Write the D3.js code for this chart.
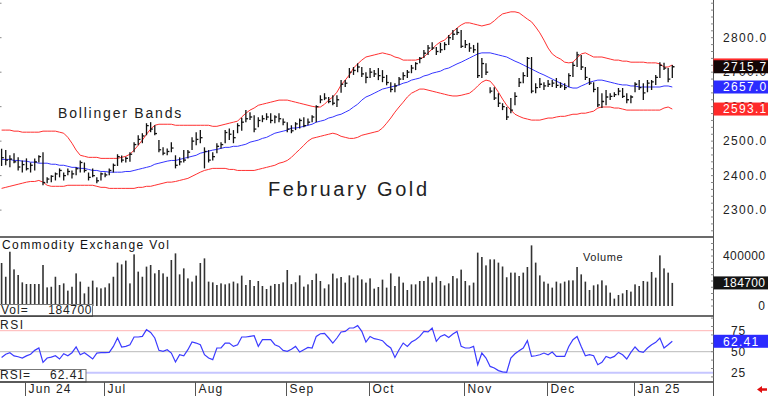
<!DOCTYPE html>
<meta charset="utf-8">
<style>
body { margin: 0; background: #fff; }
svg { display: block; }
text { font-family: "Liberation Sans", Arial, sans-serif; fill: #222; }
</style>
<svg width="768" height="396"></svg>
<script src="https://d3js.org/d3.v7.min.js"></script>
<script>

// month labels of the bottom strip and the bar index where each month starts
var monthLabels = ["Jun 24", "Jul", "Aug", "Sep", "Oct", "Nov", "Dec", "Jan 25"];
var monthStart = [6, 25, 47, 69, 89, 112, 132, 153];

// February gold daily bars
var highs = [
  2478,2474,2459,2465,2453,2444,2450,2438,2450,2459,
  2468,2395,2401,2409,2421,2409,2421,2415,2424,2444,
  2438,2409,2421,2395,2409,2409,2421,2435,2462,2458,
  2455,2468,2497,2517,2523,2552,2555,2546,2503,2482,
  2479,2497,2459,2453,2474,2474,2511,2526,2532,2482,
  2474,2468,2494,2497,2532,2537,2532,2552,2568,2590,
  2584,2575,2569,2575,2581,2581,2575,2581,2566,2555,
  2546,2555,2566,2569,2566,2575,2604,2633,2639,2628,
  2633,2633,2677,2677,2712,2715,2726,2715,2700,2712,
  2706,2712,2706,2692,2671,2668,2686,2700,2706,2721,
  2729,2744,2764,2779,2787,2773,2785,2787,2808,2822,
  2828,2822,2793,2785,2779,2785,2741,2726,2656,2656,
  2639,2610,2599,2625,2642,2683,2700,2744,2744,2668,
  2683,2671,2677,2677,2683,2671,2668,2697,2729,2759,
  2750,2715,2683,2671,2657,2639,2648,2639,2642,2654,
  2654,2639,2633,2671,2677,2668,2677,2677,2692,2729,
  2727,2712,2721];
var lows = [
  2428,2430,2424,2436,2415,2409,2415,2409,2415,2438,
  2372,2378,2381,2386,2395,2386,2401,2392,2401,2409,
  2409,2386,2395,2378,2386,2395,2401,2409,2428,2438,
  2438,2440,2468,2488,2494,2517,2526,2517,2468,2459,
  2459,2468,2421,2430,2438,2450,2474,2488,2494,2421,
  2438,2444,2465,2479,2494,2503,2494,2523,2530,2555,
  2561,2526,2540,2555,2561,2552,2552,2555,2546,2526,
  2523,2532,2537,2540,2546,2555,2555,2610,2619,2610,
  2604,2599,2640,2657,2683,2692,2700,2686,2668,2683,
  2686,2677,2671,2662,2642,2642,2662,2677,2683,2697,
  2706,2726,2741,2750,2764,2750,2756,2764,2779,2793,
  2808,2770,2770,2759,2756,2683,2683,2692,2639,2619,
  2599,2590,2561,2581,2604,2657,2668,2686,2639,2639,
  2654,2648,2657,2657,2654,2654,2648,2657,2686,2715,
  2706,2677,2663,2642,2599,2596,2604,2619,2628,2633,
  2625,2610,2610,2642,2648,2619,2642,2648,2663,2683,
  2706,2671,2683];
var closes = [
  2452,2445,2448,2440,2425,2432,2420,2430,2440,2455,
  2380,2390,2398,2405,2415,2400,2412,2405,2420,2438,
  2415,2395,2400,2385,2405,2402,2415,2430,2455,2445,
  2450,2462,2490,2505,2515,2545,2535,2522,2475,2465,
  2470,2480,2430,2440,2445,2468,2500,2505,2510,2470,
  2445,2455,2485,2490,2525,2520,2510,2545,2555,2565,
  2570,2535,2560,2565,2570,2560,2570,2565,2555,2535,
  2530,2550,2560,2545,2555,2570,2600,2620,2625,2615,
  2610,2620,2665,2668,2700,2705,2715,2695,2685,2700,
  2695,2690,2685,2670,2650,2660,2680,2690,2700,2712,
  2725,2740,2755,2770,2770,2760,2765,2780,2800,2810,
  2815,2775,2780,2770,2765,2690,2725,2700,2645,2625,
  2610,2600,2570,2590,2630,2670,2690,2740,2645,2655,
  2665,2660,2665,2668,2662,2660,2655,2690,2720,2750,
  2715,2685,2668,2650,2605,2615,2628,2630,2635,2645,
  2630,2620,2628,2665,2655,2640,2668,2672,2685,2720,
  2712,2680,2715.7];

// Bollinger bands as drawn
var bbUpper = [
  2532,2532,2532,2529,2529,2526,2526,2526,2526,2526,
  2529,2529,2529,2529,2526,2523,2511,2494,2474,2459,
  2456,2453,2453,2453,2450,2450,2450,2450,2450,2453,
  2456,2462,2474,2488,2503,2520,2535,2546,2549,2549,
  2549,2549,2546,2546,2546,2546,2546,2546,2546,2546,
  2546,2543,2543,2546,2549,2552,2555,2558,2570,2581,
  2590,2596,2604,2607,2610,2613,2616,2619,2619,2619,
  2616,2613,2610,2607,2604,2601,2599,2599,2607,2619,
  2628,2642,2663,2677,2692,2712,2724,2735,2744,2747,
  2750,2753,2756,2753,2750,2744,2741,2735,2735,2735,
  2735,2738,2744,2756,2767,2779,2788,2793,2805,2817,
  2828,2837,2843,2843,2840,2837,2834,2837,2840,2849,
  2860,2869,2872,2875,2875,2872,2863,2854,2846,2831,
  2814,2793,2770,2753,2744,2738,2729,2727,2729,2741,
  2753,2756,2750,2744,2744,2744,2741,2738,2735,2735,
  2732,2732,2729,2729,2729,2729,2727,2727,2727,2724,
  2715,2715,2721];
var bbMid = [
  2447,2447,2447,2444,2444,2442,2442,2439,2439,2436,
  2436,2436,2433,2433,2430,2430,2427,2424,2424,2421,
  2421,2418,2415,2415,2412,2412,2410,2410,2410,2410,
  2412,2412,2415,2418,2421,2424,2427,2433,2436,2439,
  2442,2444,2444,2447,2450,2453,2456,2459,2465,2468,
  2471,2474,2476,2479,2482,2482,2485,2485,2488,2491,
  2497,2500,2503,2508,2511,2517,2523,2526,2529,2532,
  2538,2538,2540,2543,2546,2549,2555,2558,2561,2567,
  2570,2575,2578,2584,2590,2599,2607,2619,2628,2633,
  2639,2645,2651,2654,2657,2660,2663,2668,2671,2677,
  2680,2683,2689,2692,2697,2700,2703,2709,2712,2718,
  2724,2729,2735,2741,2747,2753,2756,2756,2756,2753,
  2750,2747,2744,2738,2732,2727,2721,2715,2709,2703,
  2697,2692,2686,2680,2674,2668,2663,2657,2654,2654,
  2660,2665,2671,2674,2677,2677,2674,2671,2668,2665,
  2663,2663,2660,2660,2657,2657,2657,2657,2657,2657,
  2660,2660,2657];
var bbLower = [
  2363,2366,2369,2372,2375,2378,2381,2383,2383,2386,
  2381,2372,2369,2369,2369,2369,2372,2372,2372,2372,
  2372,2372,2372,2369,2366,2366,2363,2363,2363,2363,
  2363,2363,2363,2366,2366,2369,2369,2372,2375,2378,
  2381,2381,2383,2386,2389,2392,2398,2404,2410,2415,
  2418,2421,2421,2421,2421,2418,2418,2415,2415,2415,
  2415,2415,2418,2421,2424,2427,2430,2436,2439,2444,
  2453,2465,2476,2488,2500,2508,2511,2514,2517,2520,
  2523,2520,2514,2511,2508,2508,2511,2517,2520,2523,
  2526,2529,2538,2552,2567,2584,2599,2613,2628,2639,
  2645,2651,2651,2648,2645,2642,2639,2636,2633,2631,
  2631,2633,2636,2639,2648,2660,2671,2677,2674,2660,
  2642,2622,2604,2590,2578,2572,2567,2564,2561,2561,
  2561,2564,2567,2567,2570,2572,2572,2575,2578,2578,
  2581,2581,2584,2587,2596,2599,2599,2599,2596,2596,
  2593,2590,2590,2590,2590,2590,2590,2590,2590,2590,
  2596,2599,2593.1];

// Commodity Exchange volume
var volume = [
  344000,234000,434000,293000,248000,189000,176000,176000,176000,176000,
  328000,149000,154000,234000,168000,181000,123000,154000,261000,195000,
  101000,154000,203000,149000,141000,149000,181000,234000,347000,333000,
  363000,181000,413000,275000,234000,315000,328000,261000,288000,261000,
  234000,368000,421000,253000,301000,221000,195000,243000,344000,381000,
  195000,189000,168000,181000,173000,181000,195000,181000,243000,168000,
  208000,160000,200000,160000,136000,162000,176000,176000,189000,288000,
  175000,190000,245000,155000,173000,208000,259000,200000,141000,173000,
  259000,221000,232000,187000,245000,227000,245000,213000,187000,221000,
  139000,152000,211000,147000,261000,160000,235000,187000,128000,173000,
  173000,200000,200000,235000,187000,235000,200000,165000,181000,240000,
  221000,291000,200000,165000,187000,427000,392000,325000,373000,373000,
  347000,316000,230000,267000,267000,240000,267000,312000,485000,347000,
  245000,195000,179000,147000,195000,181000,195000,205000,205000,312000,
  253000,195000,128000,165000,173000,205000,165000,107000,59000,88000,
  101000,128000,115000,173000,160000,200000,195000,272000,227000,405000,
  301000,267000,184700];

// 14 day RSI
var rsi = [
  43,47,48.8,45,44,42.5,45,47,51.6,54.4,
  37.3,42.5,43.5,45.2,41.3,47.6,45.2,48.8,55.6,46.4,
  48.8,45.2,41.3,48.4,48.8,48.8,49.2,56.3,66.3,55.6,
  56.3,58.3,67.5,67.5,68.2,76.2,73,66.3,51.6,50.4,
  52.4,48.4,37.7,46.4,45.2,52.4,61.5,60.3,58.3,46.4,
  42.5,40.5,54.4,54.4,60.3,60.3,56.3,58.3,67.5,67.5,
  68.2,69,56.3,64.3,64.3,64.3,58.3,56.3,51.6,50.4,
  53,56.3,49.6,52.4,55.1,54.4,68.2,71.4,71.8,66.3,
  60.3,66.3,73.5,74.2,78.2,78.2,81,74.2,61.5,68.2,
  65.5,64.5,63.1,58,54.4,43.2,52.4,60.3,56.3,61.5,
  64.3,68.2,74.2,73.5,78.2,62.3,68.2,70.2,67,71,
  74.2,56.3,54.4,54.4,56.3,34.5,48.4,42.5,32.5,30.6,
  27.5,26,25.5,42.5,47.6,51,54.4,63.1,44.4,45.2,
  46.4,48.4,46.4,49.6,44.4,44.4,44.4,56.3,64.3,68.2,
  56.3,45.2,46.4,45.2,34.5,37.3,44.4,42.5,44.4,49.2,
  46.4,41.3,49.2,55.6,50.4,49.2,54.4,58.3,61.1,66.3,
  54.4,58.3,62.41];

var priceTicks = [2300, 2400, 2500, 2600, 2700, 2800];
var volTicks = [0, 400000];
var rsiTicks = [25, 50, 75];

var svg = d3.select("svg");
var axisX = 713.5;
var last = closes.length - 1;

var x = d3.scaleLinear().domain([0, 162]).range([1.6, 672.3]);
var y = d3.scaleLinear().domain([2300, 2800]).range([210.1, 37.7]);
var yv = d3.scaleLinear().domain([0, 400000]).range([306, 256]);
var yr = d3.scaleLinear().domain([25, 75]).range([372.7, 330.7]);

var defs = svg.append("defs");
defs.append("clipPath").attr("id", "cp").append("rect")
    .attr("x", 0).attr("y", 0).attr("width", axisX).attr("height", 237);
defs.append("clipPath").attr("id", "cr").append("rect")
    .attr("x", 0).attr("y", 317).attr("width", axisX).attr("height", 65);

/* PRICE PANEL */
var price = svg.append("g").attr("clip-path", "url(#cp)");

function bandLine(arr, color) {
  price.append("path")
      .datum(arr)
      .attr("fill", "none")
      .attr("stroke", color)
      .attr("stroke-width", 1)
      .attr("d", d3.line().x(function(d, i) { return x(i); }).y(function(d) { return y(d); }));
}
bandLine(bbUpper, "#ff3030");
bandLine(bbLower, "#ff3030");
bandLine(bbMid, "#3535ff");

var bars = price.append("g").attr("stroke", "#111").attr("stroke-width", 1.3);
closes.forEach(function(c, i) {
  bars.append("line")
      .attr("x1", x(i)).attr("x2", x(i))
      .attr("y1", y(highs[i])).attr("y2", y(lows[i]));
  bars.append("line")
      .attr("x1", x(i)).attr("x2", x(i) + 2.2)
      .attr("y1", y(c)).attr("y2", y(c));
});

svg.append("text").attr("x", 58).attr("y", 118)
    .style("font-size", "14px").style("letter-spacing", "1.8px")
    .text("Bollinger Bands");
svg.append("text").attr("x", 268).attr("y", 196)
    .style("font-size", "20px").style("letter-spacing", "2.6px")
    .text("February Gold");

/* VOLUME PANEL */
svg.append("g").attr("fill", "#333")
  .selectAll("rect")
  .data(volume)
  .enter().append("rect")
    .attr("x", function(d, i) { return x(i) - 0.8; })
    .attr("width", 1.6)
    .attr("y", function(d) { return yv(d); })
    .attr("height", function(d) { return yv(0) - yv(d); });

svg.append("text").attr("x", 2).attr("y", 248.5)
    .style("font-size", "12px").style("letter-spacing", "1.4px").style("fill", "#111")
    .text("Commodity Exchange Vol");
svg.append("text").attr("x", 583).attr("y", 260.5)
    .style("font-size", "11px").style("letter-spacing", "0.6px")
    .text("Volume");

svg.append("rect").attr("x", -1).attr("y", 304.5).attr("width", 93.5).attr("height", 12)
    .attr("fill", "#fff").attr("stroke", "#777");
svg.append("text").attr("x", 1).attr("y", 314.3)
    .style("font-size", "12px").style("letter-spacing", "1px").text("Vol=");
svg.append("text").attr("x", 92).attr("y", 314.3).attr("text-anchor", "end")
    .style("font-size", "12px").style("letter-spacing", "0.6px").text(d3.format("d")(volume[last]));

/* RSI PANEL */
var levelColor = { 75: "#ffb4b4", 50: "#b9b9b9", 25: "#c6c6ff" };
rsiTicks.forEach(function(t) {
  svg.append("line")
      .attr("x1", 0).attr("x2", axisX)
      .attr("y1", yr(t)).attr("y2", yr(t))
      .attr("stroke", levelColor[t])
      .attr("stroke-width", t === 25 ? 2 : 1);
});

svg.append("g").attr("clip-path", "url(#cr)")
  .append("path")
    .datum(rsi)
    .attr("fill", "none")
    .attr("stroke", "#3b3bff")
    .attr("stroke-width", 1.2)
    .attr("d", d3.line().x(function(d, i) { return x(i); }).y(function(d) { return yr(d); }));

svg.append("text").attr("x", 0).attr("y", 328.5)
    .style("font-size", "12px").style("letter-spacing", "1.5px").text("RSI");

svg.append("rect").attr("x", -1).attr("y", 369.5).attr("width", 87).attr("height", 12.5)
    .attr("fill", "#fff").attr("stroke", "#777");
svg.append("text").attr("x", 0).attr("y", 379.3)
    .style("font-size", "12px").style("letter-spacing", "1px").text("RSI=");
svg.append("text").attr("x", 85).attr("y", 379.3).attr("text-anchor", "end")
    .style("font-size", "12px").style("letter-spacing", "1px").text(d3.format(".2f")(rsi[last]));

/* FRAME */
var frame = svg.append("g").attr("stroke", "#3a3a3a").attr("stroke-width", 1.4);
[237, 316, 382].forEach(function(v) {
  frame.append("line").attr("x1", 0).attr("x2", axisX).attr("y1", v).attr("y2", v);
});
svg.append("line").attr("x1", axisX).attr("x2", axisX).attr("y1", 0).attr("y2", 396)
    .attr("stroke", "#555").attr("stroke-width", 1);

// small ticks along the right axis
var minor = svg.append("g").attr("stroke", "#888").attr("stroke-width", 1);
d3.range(2240, 2910, 20).forEach(function(v) {
  minor.append("line").attr("x1", axisX - 2.5).attr("x2", axisX).attr("y1", y(v)).attr("y2", y(v));
});
d3.range(0, 550000, 50000).forEach(function(v) {
  minor.append("line").attr("x1", axisX - 2.5).attr("x2", axisX).attr("y1", yv(v)).attr("y2", yv(v));
});
d3.range(20, 95, 10).forEach(function(v) {
  minor.append("line").attr("x1", axisX - 2.5).attr("x2", axisX).attr("y1", yr(v)).attr("y2", yr(v));
});
priceTicks.concat([2900]).forEach(function(v) {
  minor.append("line").attr("x1", 0).attr("x2", 1.5).attr("y1", y(v)).attr("y2", y(v));
});

/* BOTTOM DATE STRIP */
monthStart.forEach(function(idx, k) {
  var tx = Math.round(x(idx)) - 0.5;
  svg.append("line").attr("x1", tx).attr("x2", tx).attr("y1", 382).attr("y2", 396)
      .attr("stroke", "#555").attr("stroke-width", 1);
  svg.append("text").attr("x", tx + 3).attr("y", 393)
      .style("font-size", "12px").style("letter-spacing", "1.2px")
      .text(monthLabels[k]);
});

svg.append("path")
    .attr("d", "M757,389.5 L762,386 L762,388.3 L767,388.3 L767,390.7 L762,390.7 L762,393 Z")
    .attr("fill", "#e01010");

/* RIGHT AXIS LABELS */
function axisLabel(yc, txt) {
  svg.append("text").attr("x", 723).attr("y", yc + 4)
      .style("font-size", "12px").style("letter-spacing", "1.3px").text(txt);
}
priceTicks.forEach(function(v) { axisLabel(y(v), d3.format(".1f")(v)); });
svg.append("text").attr("x", 723).attr("y", yv(400000) + 4)
    .style("font-size", "12px").style("letter-spacing", "0.4px").text(d3.format("d")(400000));
svg.append("text").attr("x", 765).attr("y", yv(0) + 4).attr("text-anchor", "end")
    .style("font-size", "12px").text(d3.format("d")(volTicks[0]));
rsiTicks.forEach(function(v) {
  svg.append("text").attr("x", 731).attr("y", yr(v) + 4)
      .style("font-size", "12px").style("letter-spacing", "0.9px").text(v);
});

function valueBox(yc, fill, txt, spacing) {
  svg.append("rect").attr("x", axisX).attr("y", yc - 6.5).attr("width", 768 - axisX).attr("height", 13)
      .attr("fill", fill);
  svg.append("text").attr("x", 723).attr("y", yc + 4.3)
      .style("font-size", "12px").style("letter-spacing", spacing + "px").style("fill", "#fff")
      .text(txt);
}
valueBox(y(bbUpper[last]), "#ff2a2a", d3.format(".1f")(bbUpper[last]), 1.3);
valueBox(y(closes[last]), "#140606", d3.format(".1f")(closes[last]), 1.3);
valueBox(y(bbMid[last]), "#2b2bff", d3.format(".1f")(bbMid[last]), 1.3);
valueBox(y(bbLower[last]), "#ff2a2a", d3.format(".1f")(bbLower[last]), 1.3);
valueBox(yv(volume[last]), "#141414", d3.format("d")(volume[last]), 0.4);
valueBox(yr(rsi[last]), "#2b2bff", d3.format(".2f")(rsi[last]), 1.3);

</script>
